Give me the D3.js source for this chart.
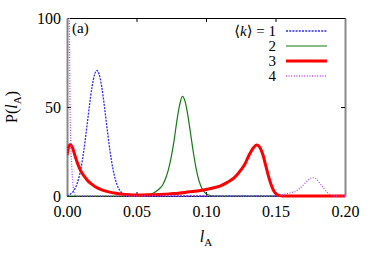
<!DOCTYPE html>
<html>
<head>
<meta charset="utf-8">
<script src="https://cdn.jsdelivr.net/npm/d3@7"></script>
<style>
  body { margin: 0; background: #fff; }
  text { font-family: "Liberation Serif", "DejaVu Serif", serif; fill: #000; }
</style>
</head>
<body>
<script>
// chart size
const width = 374;
const height = 262;

// data: [l_A, P(l_A)]
const seriesNames = ['1', '2', '3', '4'];
const k1 = [[0, 0.1], [0.002, 0.9], [0.004, 2.1], [0.006, 4.5], [0.008, 8.7], [0.010, 15.4], [0.012, 25],
  [0.014, 37], [0.016, 49.8], [0.018, 61.3], [0.020, 68.7], [0.0215, 70.5], [0.023, 68.7], [0.025, 61.3],
  [0.027, 49.8], [0.029, 37], [0.031, 25], [0.033, 15.4], [0.035, 8.7], [0.037, 4.5], [0.039, 2.1],
  [0.041, 0.9], [0.043, 0.35], [0.046, 0], [0.2, 0]];
const k2 = [[0, 0], [0.055, 0], [0.058, 0.5], [0.061, 1.2], [0.064, 2.5], [0.067, 4.5], [0.069, 6.5],
  [0.071, 10], [0.073, 15], [0.075, 22], [0.077, 31], [0.079, 42], [0.081, 51], [0.083, 56],
  [0.085, 53], [0.087, 45], [0.089, 34.5], [0.091, 24], [0.093, 15], [0.095, 8.5], [0.097, 4.4],
  [0.099, 2.0], [0.101, 0.8], [0.103, 0.3], [0.106, 0], [0.2, 0]];
const k3 = [[0, 23], [0.001, 27], [0.0025, 29], [0.004, 27], [0.006, 22], [0.008, 17.5], [0.010, 14],
  [0.0125, 11], [0.015, 8.5], [0.0175, 6.8], [0.020, 5.4], [0.025, 3.5], [0.030, 2.3], [0.035, 1.5],
  [0.040, 1.0], [0.045, 0.7], [0.050, 0.6], [0.055, 0.6], [0.060, 0.7], [0.065, 0.8], [0.070, 1.0],
  [0.075, 1.3], [0.080, 1.6], [0.085, 2.0], [0.090, 2.5], [0.095, 3.0], [0.100, 3.6], [0.105, 4.5],
  [0.110, 5.5], [0.115, 7.5], [0.120, 10], [0.125, 14.5], [0.128, 18], [0.131, 23], [0.134, 27],
  [0.1365, 28.7], [0.139, 27], [0.141, 23], [0.143, 17], [0.145, 11], [0.147, 6], [0.149, 2.5],
  [0.151, 0.8], [0.153, 0.2], [0.155, 0], [0.2, 0]];
const k4 = [[0, 0], [0.001, 180], [0.0017, 100], [0.0022, 50], [0.0027, 30], [0.0036, 14], [0.0045, 5],
  [0.0055, 1], [0.0065, 0], [0.150, 0], [0.154, 0.5], [0.158, 1.3], [0.162, 2.0], [0.164, 2.4],
  [0.167, 4], [0.1712, 7.1], [0.174, 9.3], [0.1768, 10.3], [0.179, 9.8], [0.182, 7.1], [0.185, 4],
  [0.188, 1.5], [0.1905, 0.3], [0.193, 0], [0.2, 0]];
const xTicks = [0, 0.05, 0.1, 0.15, 0.2];
const yTicks = [0, 50, 100];

const styles = [
  {color: '#2b2bff', width: 1.3, dash: '2,1.2'},
  {color: '#137a13', width: 1.2, dash: null},
  {color: '#ff0000', width: 3, dash: null},
  {color: '#b84dff', width: 1.3, dash: '1,1.6'}
];

let svg = d3.select('body').append('svg')
  .attr('width', width)
  .attr('height', height);

// plot box
const pLeft = 67, pRight = 345, pTop = 18, pBottom = 196;

let x = d3.scaleLinear().domain([0, 0.2]).range([pLeft, pRight]);
let y = d3.scaleLinear().domain([0, 100]).range([pBottom, pTop]);

// axes, ticks pointing inside
let xAxis = d3.axisBottom(x).tickValues(xTicks).tickFormat(d3.format('.2f'))
  .tickSizeInner(-4).tickSizeOuter(0).tickPadding(10);
let xTop = d3.axisTop(x).tickValues(xTicks).tickFormat('')
  .tickSizeInner(-4).tickSizeOuter(0);
let yAxis = d3.axisLeft(y).tickValues(yTicks).tickFormat(d3.format('d'))
  .tickSizeInner(-4).tickSizeOuter(0).tickPadding(6);
let yRight = d3.axisRight(y).tickValues(yTicks).tickFormat('')
  .tickSizeInner(-4).tickSizeOuter(0);

function styleAxis(g, col, w) {
  g.attr('font-family', null);
  g.select('.domain').attr('stroke', col).attr('stroke-width', w);
  g.selectAll('.tick line').attr('stroke', '#000');
  g.selectAll('.tick text').attr('font-size', 16).attr('fill', '#000');
}

svg.append('g').attr('transform', `translate(0,${pBottom})`).call(xAxis).call(g => styleAxis(g, '#000', 1));
svg.append('g').attr('transform', `translate(0,${pTop})`).call(xTop).call(g => styleAxis(g, '#000', 1));
svg.append('g').attr('transform', `translate(${pLeft},0)`).call(yAxis).call(g => styleAxis(g, '#888', 2));
svg.append('g').attr('transform', `translate(${pRight},0)`).call(yRight).call(g => styleAxis(g, '#888', 2));

// clip to the box (a bit lower so the thick line on 0 shows)
svg.append('clipPath').attr('id', 'clip')
  .append('rect').attr('x', pLeft).attr('y', pTop).attr('width', pRight - pLeft).attr('height', pBottom - pTop + 2);

let line = d3.line()
  .x(d => x(d[0]))
  .y(d => y(d[1]))
  .curve(d3.curveMonotoneX);

let curves = svg.append('g').attr('clip-path', 'url(#clip)');
[k1, k2, k3, k4].forEach((s, i) => {
  curves.append('path')
    .datum(s)
    .attr('d', line)
    .attr('fill', 'none')
    .attr('stroke', styles[i].color)
    .attr('stroke-width', styles[i].width)
    .attr('stroke-dasharray', styles[i].dash)
    .attr('stroke-linejoin', 'round');
});

// panel label
svg.append('text').attr('x', 72).attr('y', 33).attr('font-size', 15).text('(a)');

// legend
const legY = [31, 46, 61, 76];
seriesNames.forEach((n, i) => {
  let t = svg.append('text')
    .attr('x', 276).attr('y', legY[i] + 5)
    .attr('text-anchor', 'end')
    .attr('font-size', 15);
  if (i === 0) {
    t.append('tspan').text('\u27E8');
    t.append('tspan').attr('font-style', 'italic').text('k');
    t.append('tspan').text('\u27E9 = ' + n);
  } else {
    t.text(n);
  }
  svg.append('line')
    .attr('x1', 286).attr('x2', 327)
    .attr('y1', legY[i]).attr('y2', legY[i])
    .attr('stroke', styles[i].color)
    .attr('stroke-width', styles[i].width)
    .attr('stroke-dasharray', styles[i].dash);
});

// axis titles
let yl = svg.append('text')
  .attr('transform', 'translate(17,107) rotate(-90)')
  .attr('text-anchor', 'middle')
  .attr('font-size', 16);
yl.append('tspan').text('P(');
yl.append('tspan').attr('font-style', 'italic').text('l');
yl.append('tspan').attr('font-size', 11).attr('dy', 4).text('A');
yl.append('tspan').attr('dy', -4).text(')');

let xl = svg.append('text')
  .attr('x', 206).attr('y', 242)
  .attr('text-anchor', 'middle')
  .attr('font-size', 16);
xl.append('tspan').attr('font-style', 'italic').text('l');
xl.append('tspan').attr('font-size', 11).attr('dy', 4).text('A');
</script>
</body>
</html>
